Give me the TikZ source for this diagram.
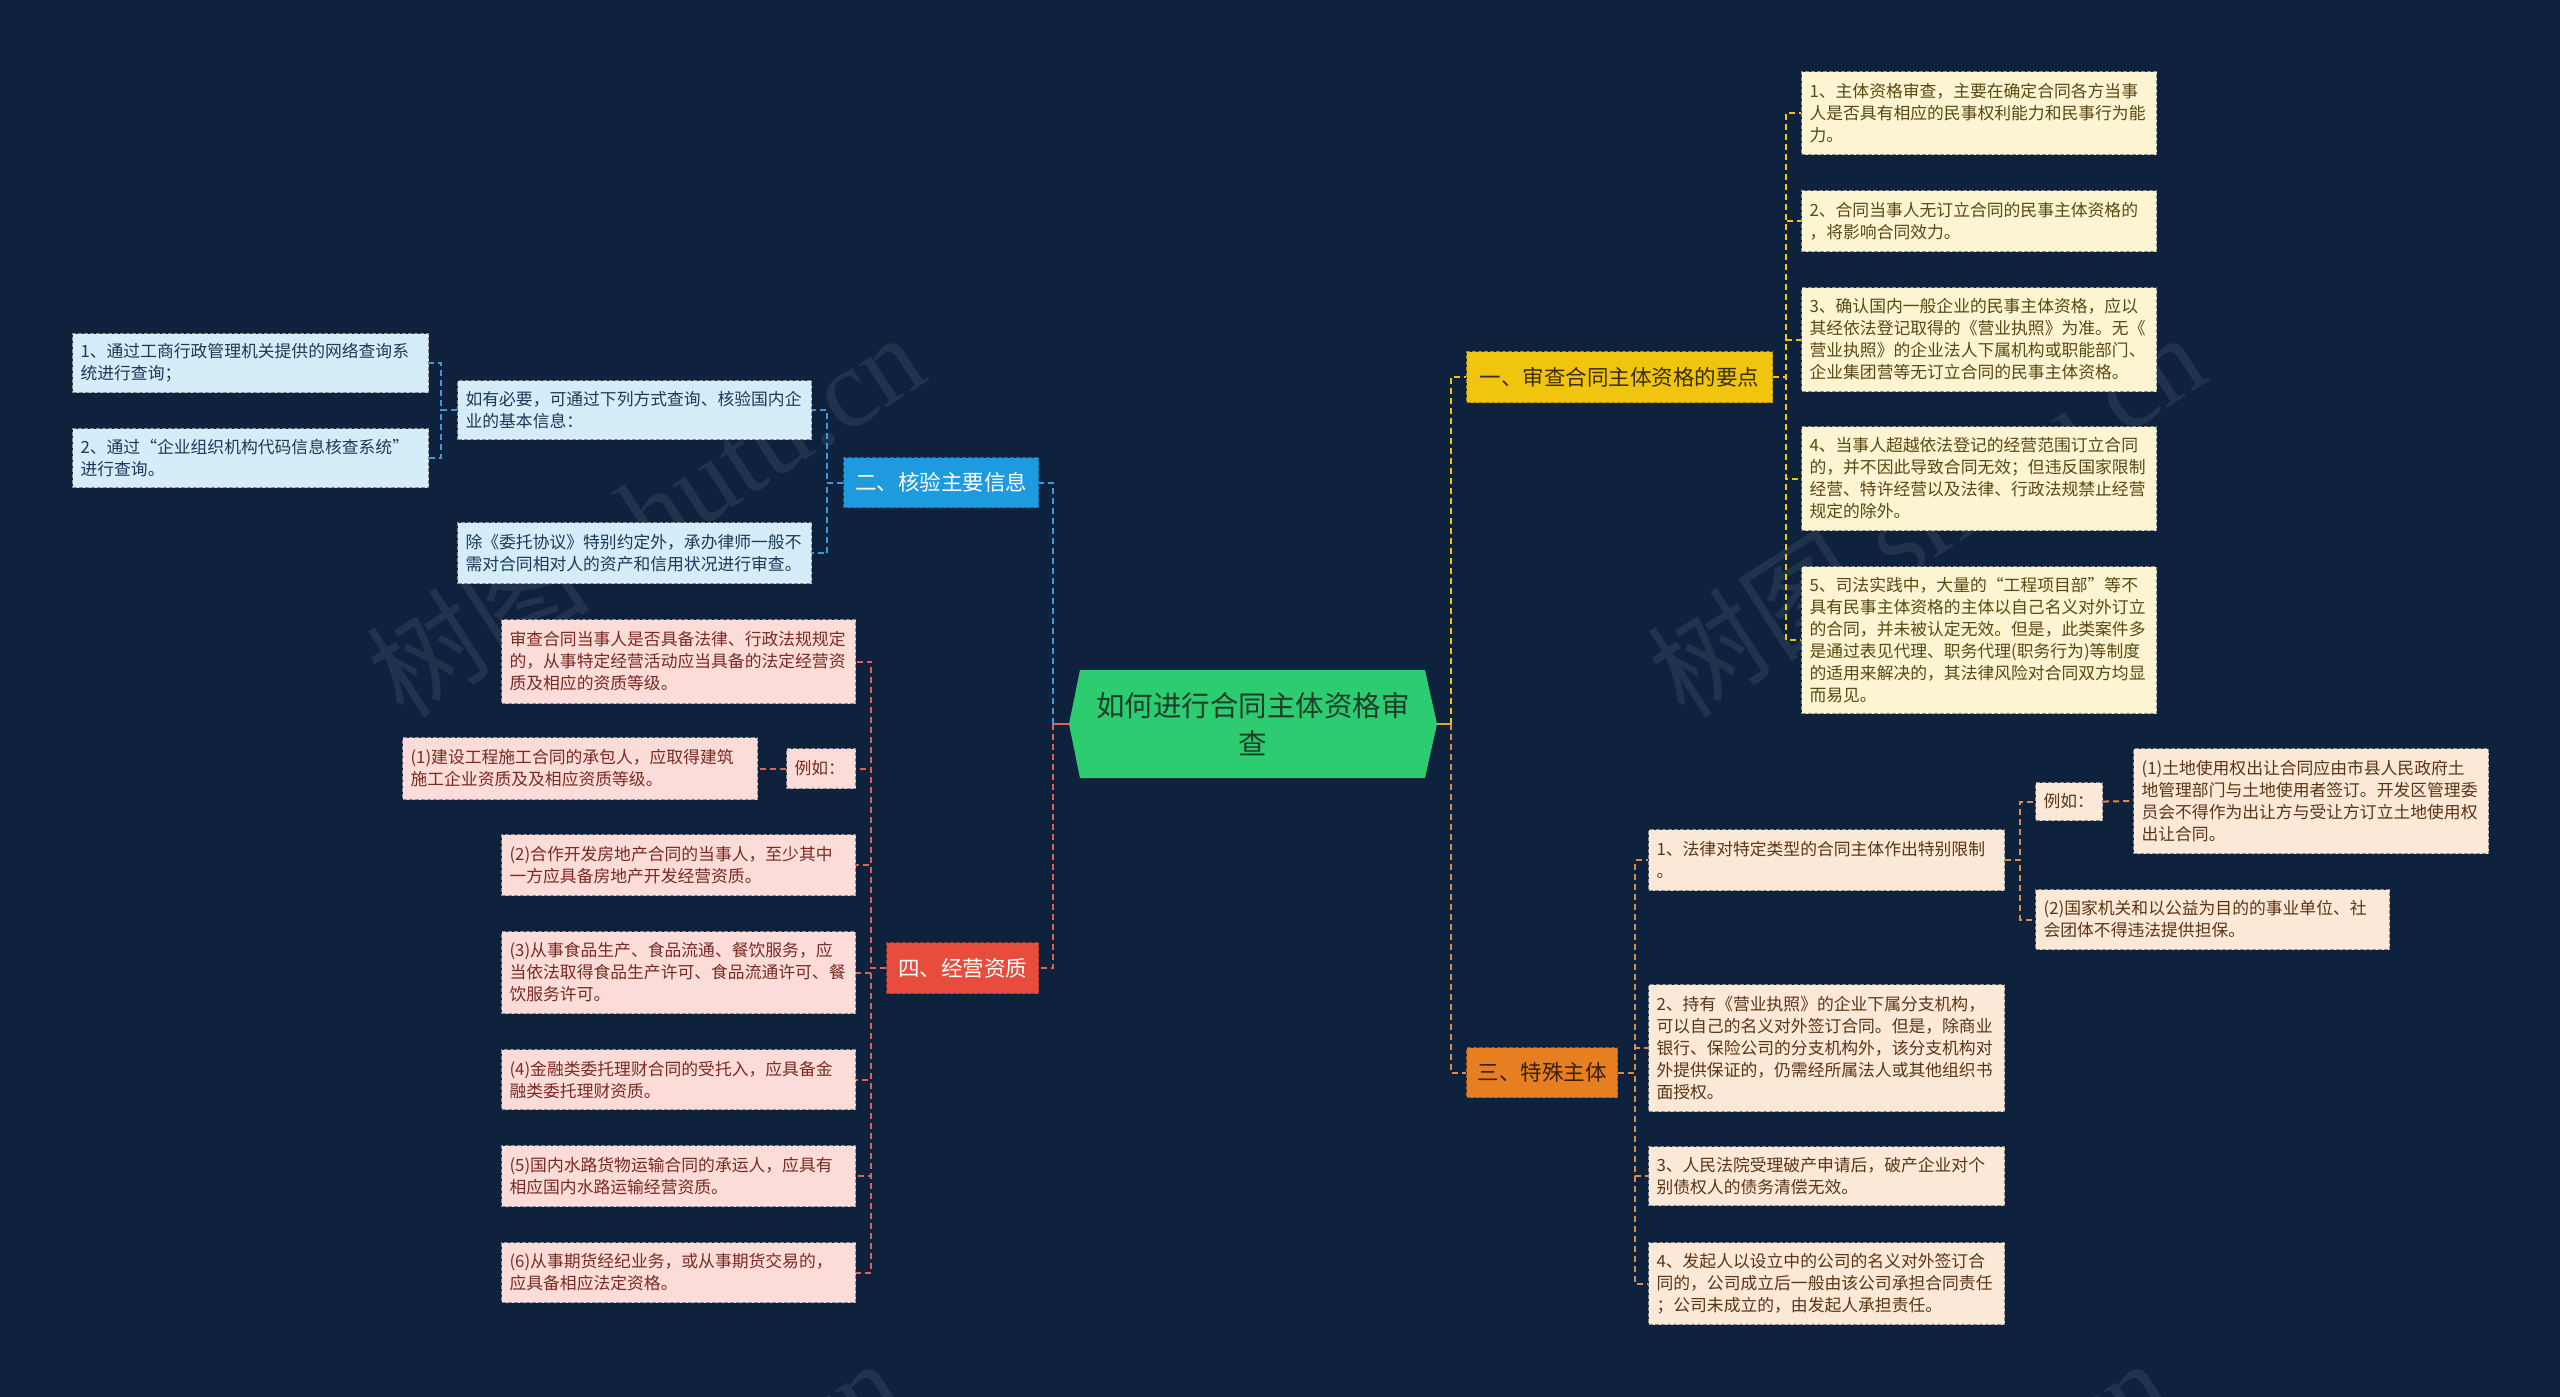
\documentclass[tikz,border=0pt]{standalone}
\usepackage{fontspec}
\setmainfont{Noto Sans CJK SC}
\newfontfamily\wmfont{Liberation Serif}
\newfontfamily\wmcjk{Noto Sans CJK SC}
\definecolor{bg}{HTML}{0E213D}
\definecolor{rootg}{HTML}{2ECC71}
\definecolor{roott}{HTML}{1E3D2A}
\definecolor{ybr}{HTML}{F1C40F}
\definecolor{ybrt}{HTML}{3A2E05}
\definecolor{bbr}{HTML}{1D9BDE}
\definecolor{rbr}{HTML}{E74C3C}
\definecolor{obr}{HTML}{E67E22}
\definecolor{obrt}{HTML}{3A1E05}
\definecolor{yfill}{HTML}{FDF5D2}
\definecolor{ytext}{HTML}{5A4712}
\definecolor{bfill}{HTML}{D4EDF9}
\definecolor{btext}{HTML}{1B3A57}
\definecolor{rfill}{HTML}{FBDCD8}
\definecolor{rtext}{HTML}{7A2A22}
\definecolor{ofill}{HTML}{FCE8D6}
\definecolor{otext}{HTML}{5A3515}
\definecolor{ycol}{HTML}{F1C40F}
\definecolor{bcol}{HTML}{3A9BD9}
\definecolor{rcol}{HTML}{E0605A}
\definecolor{ocol}{HTML}{D98B4B}
\tikzset{
  leafbase/.style={draw=black!45, line width=1.1pt, dash pattern=on 4pt off 2pt,
    inner xsep=8pt, inner ysep=2pt, align=left, font=\fontsize{16.8}{22}\selectfont},
  yleaf/.style={leafbase, fill=yfill, text=ytext},
  bleaf/.style={leafbase, fill=bfill, text=btext},
  rleaf/.style={leafbase, fill=rfill, text=rtext},
  oleaf/.style={leafbase, fill=ofill, text=otext},
  brbase/.style={line width=1.1pt, dash pattern=on 4pt off 2pt, inner xsep=8pt,
    inner ysep=2pt, align=center, font=\fontsize{21.5}{26}\selectfont},
  ybranch/.style={brbase, fill=ybr, draw=ybr!70!black, text=ybrt},
  bbranch/.style={brbase, fill=bbr, draw=bbr!70!black, text=white},
  rbranch/.style={brbase, fill=rbr, draw=rbr!70!black, text=white},
  obranch/.style={brbase, fill=obr, draw=obr!70!black, text=obrt},
  conbase/.style={line width=2pt, dash pattern=on 6pt off 4pt},
  ycon/.style={conbase, draw=ycol},
  bcon/.style={conbase, draw=bcol},
  rcon/.style={conbase, draw=rcol},
  ocon/.style={conbase, draw=ocol},
  wmark/.style={rotate=33, text=white, opacity=0.08, font=\wmfont\fontsize{112}{112}\selectfont}
}
% name, x1, y1, x2, y2, style, text
\newcommand\bxn[7]{%
  \pgfmathsetmacro\bxw{#4-#2}%
  \pgfmathsetmacro\bxh{#5-#3}%
  \pgfmathsetmacro\bxt{#4-#2-16}%
  \node[#6, anchor=north west, minimum width=\bxw pt, minimum height=\bxh pt,
        text width=\bxt pt] (#1) at (#2,#3) {#7};}
\begin{document}
\begin{tikzpicture}[x=1pt,y=-1pt]
\useasboundingbox (0,0) rectangle (2560,1397);
\fill[bg] (0,0) rectangle (2560,1397);
\begin{scope}
\clip (0,0) rectangle (2560,1397);
\node[wmark] (wm1) at (645,514) {{\wmcjk 树图} shutu.cn};
\node[wmark] (wm2) at (1926,514) {{\wmcjk 树图} shutu.cn};
\node[wmark] (wm3) at (622,1540) {{\wmcjk 树图} shutu.cn};
\node[wmark] (wm4) at (1890,1540) {{\wmcjk 树图} shutu.cn};
\end{scope}

% root
\fill[rootg] (1069,724) -- (1080,670) -- (1425,670) -- (1437,724) -- (1425,778) -- (1080,778) -- cycle;
\node[minimum width=368pt, minimum height=108pt, align=center, text=roott,
      font=\fontsize{28.5}{38}\selectfont] (root) at (1253,724) {如何进行合同主体资格审\\查};

% branches
\bxn{b1}{1466}{351}{1772}{402}{ybranch}{一、审查合同主体资格的要点}
\bxn{b2}{843}{457}{1038}{507}{bbranch}{二、核验主要信息}
\bxn{b4}{886}{942}{1038}{993}{rbranch}{四、经营资质}
\bxn{b3}{1466}{1047}{1617}{1097}{obranch}{三、特殊主体}

% yellow children
\bxn{c11}{1801}{71}{2156}{154}{yleaf}{1、主体资格审查，主要在确定合同各方当事\\人是否具有相应的民事权利能力和民事行为能\\力。}
\bxn{c12}{1801}{190}{2156}{251}{yleaf}{2、合同当事人无订立合同的民事主体资格的\\，将影响合同效力。}
\bxn{c13}{1801}{287}{2156}{391}{yleaf}{3、确认国内一般企业的民事主体资格，应以\\其经依法登记取得的《营业执照》为准。无《\\营业执照》的企业法人下属机构或职能部门、\\企业集团营等无订立合同的民事主体资格。}
\bxn{c14}{1801}{426}{2156}{530}{yleaf}{4、当事人超越依法登记的经营范围订立合同\\的，并不因此导致合同无效；但违反国家限制\\经营、特许经营以及法律、行政法规禁止经营\\规定的除外。}
\bxn{c15}{1801}{566}{2156}{713}{yleaf}{5、司法实践中，大量的“工程项目部”等不\\具有民事主体资格的主体以自己名义对外订立\\的合同，并未被认定无效。但是，此类案件多\\是通过表见代理、职务代理(职务行为)等制度\\的适用来解决的，其法律风险对合同双方均显\\而易见。}

% blue children
\bxn{c21}{457}{380}{811}{439}{bleaf}{如有必要，可通过下列方式查询、核验国内企\\业的基本信息：}
\bxn{c22}{457}{522}{811}{583}{bleaf}{除《委托协议》特别约定外，承办律师一般不\\需对合同相对人的资产和信用状况进行审查。}
\bxn{c211}{72}{333}{428}{392}{bleaf}{1、通过工商行政管理机关提供的网络查询系\\统进行查询；}
\bxn{c212}{72}{428}{428}{487}{bleaf}{2、通过“企业组织机构代码信息核查系统”\\进行查询。}

% red children
\bxn{c41}{501}{619}{855}{703}{rleaf}{审查合同当事人是否具备法律、行政法规规定\\的，从事特定经营活动应当具备的法定经营资\\质及相应的资质等级。}
\bxn{c42}{786}{748}{855}{788}{rleaf}{例如：}
\bxn{c421}{402}{737}{757}{799}{rleaf}{(1)建设工程施工合同的承包人，应取得建筑\\施工企业资质及及相应资质等级。}
\bxn{c43}{501}{834}{855}{895}{rleaf}{(2)合作开发房地产合同的当事人，至少其中\\一方应具备房地产开发经营资质。}
\bxn{c44}{501}{931}{855}{1013}{rleaf}{(3)从事食品生产、食品流通、餐饮服务，应\\当依法取得食品生产许可、食品流通许可、餐\\饮服务许可。}
\bxn{c45}{501}{1049}{855}{1109}{rleaf}{(4)金融类委托理财合同的受托入，应具备金\\融类委托理财资质。}
\bxn{c46}{501}{1145}{855}{1206}{rleaf}{(5)国内水路货物运输合同的承运人，应具有\\相应国内水路运输经营资质。}
\bxn{c47}{501}{1242}{855}{1302}{rleaf}{(6)从事期货经纪业务，或从事期货交易的，\\应具备相应法定资格。}

% orange children
\bxn{c31}{1648}{829}{2004}{890}{oleaf}{1、法律对特定类型的合同主体作出特别限制\\。}
\bxn{c311}{2035}{782}{2102}{820}{oleaf}{例如：}
\bxn{c3111}{2133}{748}{2488}{853}{oleaf}{(1)土地使用权出让合同应由市县人民政府土\\地管理部门与土地使用者签订。开发区管理委\\员会不得作为出让方与受让方订立土地使用权\\出让合同。}
\bxn{c312}{2035}{889}{2389}{949}{oleaf}{(2)国家机关和以公益为目的的事业单位、社\\会团体不得违法提供担保。}
\bxn{c32}{1648}{984}{2004}{1111}{oleaf}{2、持有《营业执照》的企业下属分支机构，\\可以自己的名义对外签订合同。但是，除商业\\银行、保险公司的分支机构外，该分支机构对\\外提供保证的，仍需经所属法人或其他组织书\\面授权。}
\bxn{c33}{1648}{1146}{2004}{1205}{oleaf}{3、人民法院受理破产申请后，破产企业对个\\别债权人的债务清偿无效。}
\bxn{c34}{1648}{1242}{2004}{1324}{oleaf}{4、发起人以设立中的公司的名义对外签订合\\同的，公司成立后一般由该公司承担合同责任\\；公司未成立的，由发起人承担责任。}

% connectors
\coordinate (jR) at (1451,724);
\coordinate (jL) at (1053,724);
\draw[line width=2.5pt, draw=ocol!60!ycol] (root.east) -- (jR);
\draw[line width=2.5pt, draw=rcol] (root.west) -- (jL);
\draw[ycon] (jR) |- (b1.west);
\draw[ocon] (jR) |- (b3.west);
\draw[bcon] (jL) |- (b2.east);
\draw[rcon] (jL) |- (b4.east);

\foreach \c in {c11,c12,c13,c14,c15} \draw[ycon] (b1.east) -- ++(13,0) |- (\c.west);
\foreach \c in {c21,c22} \draw[bcon] (b2.west) -- ++(-16,0) |- (\c.east);
\foreach \c in {c211,c212} \draw[bcon] (c21.west) -- ++(-16,0) |- (\c.east);
\foreach \c in {c41,c42,c43,c44,c45,c46,c47} \draw[rcon] (b4.west) -- ++(-15,0) |- (\c.east);
\draw[rcon] (c42.west) -- (c421.east);
\foreach \c in {c31,c32,c33,c34} \draw[ocon] (b3.east) -- ++(17,0) |- (\c.west);
\foreach \c in {c311,c312} \draw[ocon] (c31.east) -- ++(15,0) |- (\c.west);
\draw[ocon] (c311.east) -- (c3111.west);
\end{tikzpicture}
\end{document}
